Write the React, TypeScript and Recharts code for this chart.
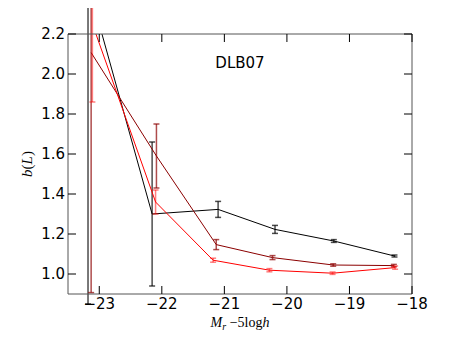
import React from 'react';
import { LineChart, Line, XAxis, YAxis, ErrorBar } from 'recharts';

// magnitudes and bias values per model
const xBlack = [-23.18, -22.155, -21.1, -20.19, -19.25, -18.28];
const bBlack = [2.45, 1.3, 1.323, 1.223, 1.165, 1.09];
const eBlack = [1.6, 0.36, 0.04, 0.02, 0.007, 0.005];

const xDark = [-23.13, -22.086, -21.13, -20.23, -19.26, -18.29];
const bDark = [2.107, 1.59, 1.147, 1.082, 1.045, 1.042];
const eDark = [1.2, 0.16, 0.025, 0.01, 0.006, 0.006];

const xRed = [-23.11, -22.1, -21.18, -20.28, -19.27, -18.27];
const bRed = [2.25, 1.36, 1.069, 1.019, 1.004, 1.032];
const eRed = [0.39, 0.06, 0.01, 0.008, 0.006, 0.008];

const xTicks = [-23, -22, -21, -20, -19, -18];
const yTicks = [1.0, 1.2, 1.4, 1.6, 1.8, 2.0, 2.2];

const toRows = (xs: number[], bs: number[], es: number[]) =>
  xs.map((x, i) => ({ x, b: bs[i], e: es[i] }));

const black = toRows(xBlack, bBlack, eBlack);
const dark = toRows(xDark, bDark, eDark);
const red = toRows(xRed, bRed, eRed);

const TICK = 8;
const frame = '#555';
const sans = 'DejaVu Sans, sans-serif';
const serif = 'Liberation Serif, serif';

const BottomTick = ({ x, y, payload }: any) => (
  <g>
    <line x1={x} y1={y} x2={x} y2={y - TICK} stroke="#000" />
    <text x={x} y={y + 15} textAnchor="middle" fontFamily={sans} fontSize={15} fill="#000">
      {String(payload.value).replace('-', '\u2212')}
    </text>
  </g>
);

const TopTick = ({ x, y }: any) => <line x1={x} y1={y} x2={x} y2={y + TICK} stroke="#000" />;

const LeftTick = ({ x, y, payload }: any) => (
  <g>
    <line x1={x} y1={y} x2={x + TICK} y2={y} stroke="#000" />
    <text x={x - 3} y={y + 5} textAnchor="end" fontFamily={sans} fontSize={15} fill="#000">
      {Number(payload.value).toFixed(1)}
    </text>
  </g>
);

const RightTick = ({ x, y }: any) => <line x1={x} y1={y} x2={x - TICK} y2={y} stroke="#000" />;

export default function App() {
  return (
    <LineChart width={450} height={335} margin={{ top: 25, right: 45, left: 20, bottom: 19 }}>
      <XAxis
        type="number"
        dataKey="x"
        domain={[-23.5, -18]}
        ticks={xTicks}
        allowDataOverflow
        height={30}
        tickSize={0}
        tickMargin={0}
        tickLine={false}
        tick={<BottomTick />}
        axisLine={{ stroke: frame }}
      />
      <XAxis
        xAxisId="top"
        orientation="top"
        type="number"
        dataKey="x"
        domain={[-23.5, -18]}
        ticks={xTicks}
        allowDataOverflow
        height={1}
        tickSize={0}
        tickMargin={0}
        tickLine={false}
        tick={<TopTick />}
        axisLine={{ stroke: frame }}
      />
      <YAxis
        type="number"
        domain={[0.9, 2.2]}
        ticks={yTicks}
        allowDataOverflow
        width={40}
        tickSize={0}
        tickMargin={0}
        tickLine={false}
        tick={<LeftTick />}
        axisLine={{ stroke: frame }}
      />
      <YAxis
        yAxisId="right"
        orientation="right"
        type="number"
        domain={[0.9, 2.2]}
        ticks={yTicks}
        allowDataOverflow
        width={1}
        tickSize={0}
        tickMargin={0}
        tickLine={false}
        tick={<RightTick />}
        axisLine={{ stroke: frame }}
      />
      <Line data={black} dataKey="b" stroke="#000" strokeWidth={1} dot={false} isAnimationActive={false}>
        <ErrorBar dataKey="e" direction="y" width={3} stroke="#000" strokeOpacity={0.7} />
      </Line>
      <Line data={dark} dataKey="b" stroke="#8b0000" strokeWidth={1} dot={false} isAnimationActive={false}>
        <ErrorBar dataKey="e" direction="y" width={3} stroke="#8b0000" strokeOpacity={0.7} />
      </Line>
      <Line data={red} dataKey="b" stroke="#ff0000" strokeWidth={1} dot={false} isAnimationActive={false}>
        <ErrorBar dataKey="e" direction="y" width={3} stroke="#ff0000" strokeOpacity={0.5} />
      </Line>
      <text x={232} y={60} textAnchor="middle" fontFamily={sans} fontSize={15} fill="#000">
        DLB07
      </text>
      <text
        x={24}
        y={156}
        textAnchor="middle"
        fontFamily={serif}
        fontSize={15}
        fill="#000"
        transform="rotate(-90 24 156)"
      >
        <tspan fontStyle="italic">b</tspan>(<tspan fontStyle="italic">L</tspan>)
      </text>
      <text x={232} y={319} textAnchor="middle" fontFamily={serif} fontSize={14} fill="#000">
        <tspan fontStyle="italic">M</tspan>
        <tspan fontStyle="italic" fontSize={10} baselineShift="-3">r</tspan>
        <tspan> {'\u2212'}5log</tspan>
        <tspan fontStyle="italic">h</tspan>
      </text>
    </LineChart>
  );
}
